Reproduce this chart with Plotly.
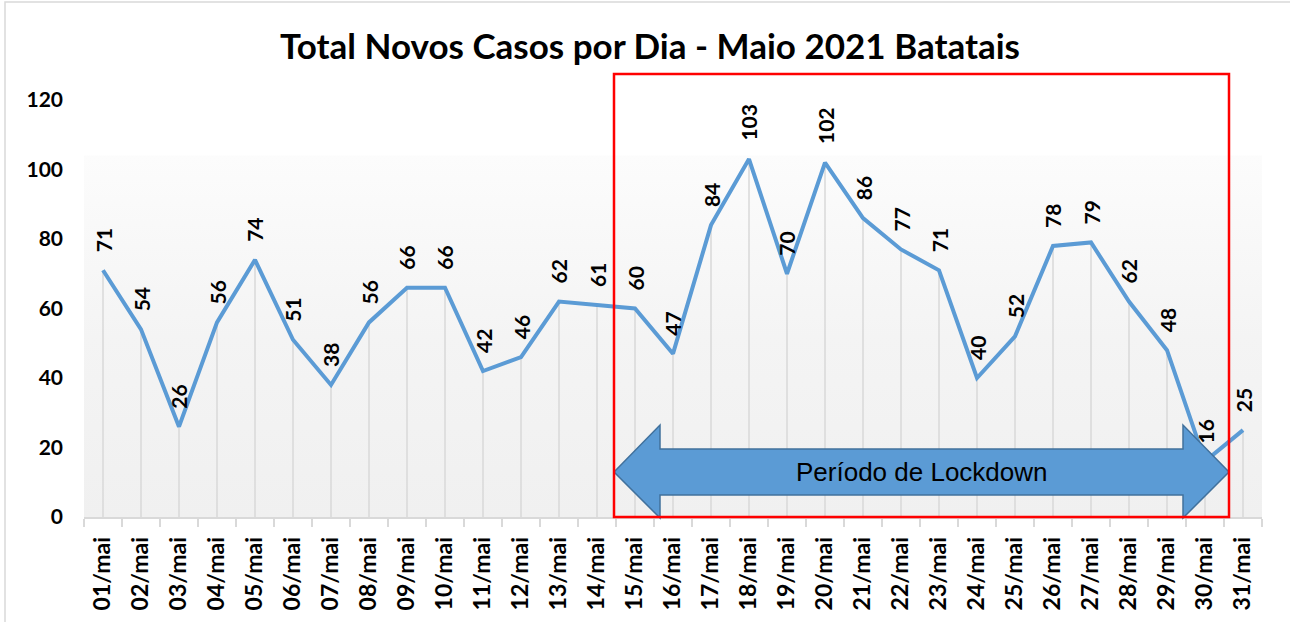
import plotly.graph_objects as go

days = [f"{d:02d}/mai" for d in range(1, 32)]
cases = [71, 54, 26, 56, 74, 51, 38, 56, 66, 66, 42, 46, 62, 61, 60, 47, 84, 103,
         70, 102, 86, 77, 71, 40, 52, 78, 79, 62, 48, 16, 25]
y_ticks = [0, 20, 40, 60, 80, 100, 120]
title_text = "Total Novos Casos por Dia - Maio 2021 Batatais"
arrow_text = "Período de Lockdown"

idx = list(range(len(days)))
FONT = "Lato, Calibri, Carlito, sans-serif"

fig = go.Figure()

# gradient background of plot area
fig.add_trace(go.Scatter(
    x=[-0.5, len(days) - 0.5, len(days) - 0.5, -0.5, -0.5],
    y=[0, 0, 104, 104, 0],
    mode="lines", line=dict(width=0), fill="toself",
    fillgradient=dict(type="vertical",
                      colorscale=[[0, "#f0f0f0"], [0.5, "#f4f4f4"], [1, "#fcfcfc"]]),
    hoverinfo="skip", showlegend=False))

# drop lines
dx, dy = [], []
for i, v in zip(idx, cases):
    dx += [i, i, None]
    dy += [0, v, None]
fig.add_trace(go.Scatter(x=dx, y=dy, mode="lines",
                         line=dict(color="#d9d9d9", width=1.5),
                         hoverinfo="skip", showlegend=False))

# main line
fig.add_trace(go.Scatter(x=idx, y=cases, mode="lines",
                         line=dict(color="#5b9bd5", width=4),
                         showlegend=False))

annotations = []
for i, v in zip(idx, cases):
    annotations.append(dict(x=i, y=v, xref="x", yref="y", text=str(v),
                            textangle=-90, showarrow=False,
                            yanchor="bottom", xanchor="center", yshift=16,
                            font=dict(family=FONT, size=21, color="#000000", weight=700)))

# plot area in px: x 84..1262, y 100..517
def px(xp):
    return (xp - 84) / 1178.0

def py(yp):
    return (517 - yp) / 417.0

xl_tip, xl_base = px(614), px(660)
xr_base, xr_tip = px(1183), px(1229)
y_mid, y_ht, y_hb = py(472), py(425), py(518)
y_st, y_sb = py(449), py(495)
arrow_path = (f"M {xl_tip},{y_mid} L {xl_base},{y_ht} L {xl_base},{y_st} "
              f"L {xr_base},{y_st} L {xr_base},{y_ht} L {xr_tip},{y_mid} "
              f"L {xr_base},{y_hb} L {xr_base},{y_sb} L {xl_base},{y_sb} "
              f"L {xl_base},{y_hb} Z")

shapes = [
    # outer chart border
    dict(type="rect", xref="paper", yref="paper", x0=px(5), x1=px(1300),
         y0=py(640), y1=py(2), line=dict(color="#d9d9d9", width=1.5),
         fillcolor="rgba(0,0,0,0)", layer="below"),
    # arrow
    dict(type="path", xref="paper", yref="paper", path=arrow_path,
         fillcolor="#5b9bd5", line=dict(color="#41719c", width=1.5), layer="above"),
    # red rectangle
    dict(type="rect", xref="paper", yref="paper", x0=px(614), x1=px(1229),
         y0=0, y1=py(74), line=dict(color="#ff0000", width=2.5),
         fillcolor="rgba(0,0,0,0)", layer="above"),
]

annotations.append(dict(x=px(922), y=y_mid, xref="paper", yref="paper",
                        text=arrow_text, showarrow=False,
                        xanchor="center", yanchor="middle",
                        font=dict(family="Liberation Sans, Arial, sans-serif",
                                  size=26, color="#000000")))

fig.update_layout(
    width=1290, height=622,
    margin=dict(l=84, r=28, t=100, b=105),
    paper_bgcolor="#ffffff", plot_bgcolor="#ffffff",
    title=dict(text=title_text, xref="container", yref="container",
               x=650 / 1290, y=1 - 47 / 622, xanchor="center", yanchor="middle",
               font=dict(family=FONT, size=35, color="#000000", weight=700)),
    shapes=shapes, annotations=annotations,
    xaxis=dict(range=[-0.5, len(days) - 0.5], tickvals=idx, ticktext=days,
               tickangle=-90, showgrid=False, zeroline=False,
               showline=True, linecolor="#d9d9d9", linewidth=1.5,
               ticks="", ticklabelstandoff=9,
               tickfont=dict(family=FONT, size=23, color="#000000", weight=700),
               minor=dict(tickvals=[i - 0.5 for i in range(len(days) + 1)],
                          ticks="outside", ticklen=8, tickcolor="#d9d9d9",
                          tickwidth=1.5, showgrid=False)),
    yaxis=dict(range=[0, 120], tickvals=y_ticks, showgrid=False, zeroline=False,
               showline=False, ticks="", ticklabelstandoff=20,
               tickfont=dict(family=FONT, size=21, color="#000000", weight=700)),
)

fig.write_html("out.html", config={"displayModeBar": False},
               post_script="document.body.style.margin='0';document.body.style.overflow='hidden';")
